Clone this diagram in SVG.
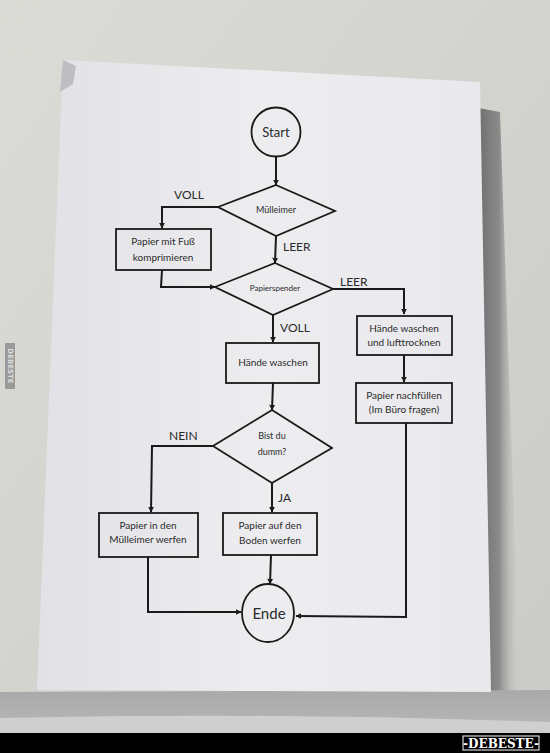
<svg xmlns="http://www.w3.org/2000/svg" width="550" height="753" viewBox="0 0 550 753">
<defs>
<linearGradient id="wall" x1="0" y1="0" x2="1" y2="1">
<stop offset="0" stop-color="#dcdcd7"/>
<stop offset="1" stop-color="#cacac6"/>
</linearGradient>
<linearGradient id="paper" x1="0" y1="0" x2="1" y2="0">
<stop offset="0" stop-color="#e2e2e6"/>
<stop offset="0.5" stop-color="#ededf0"/>
<stop offset="1" stop-color="#e9e9ed"/>
</linearGradient>
<linearGradient id="shadow" x1="0" y1="0" x2="1" y2="0">
<stop offset="0" stop-color="#6f6f70"/>
<stop offset="0.5" stop-color="#8a8a8b"/>
<stop offset="1" stop-color="#c9c9c6" stop-opacity="0"/>
</linearGradient>
<linearGradient id="sink" x1="0" y1="0" x2="0" y2="1">
<stop offset="0" stop-color="#a9a9a9"/>
<stop offset="1" stop-color="#b8b8b8"/>
</linearGradient>
<marker id="ah" viewBox="0 0 10 10" refX="9" refY="5" markerWidth="6" markerHeight="6" orient="auto" markerUnits="userSpaceOnUse">
<path d="M0,0 L10,5 L0,10 z" fill="#1a1a1a"/>
</marker>
<style>
.sh{fill:none;stroke:#1a1a1a;stroke-width:1.8}
.ln{fill:none;stroke:#1a1a1a;stroke-width:2;marker-end:url(#ah)}
.t{font-family:Lato,"Open Sans",sans-serif;fill:#2a2a2a;text-anchor:middle}
.lb{font-family:Lato,"Open Sans",sans-serif;fill:#2a2a2a;font-size:12px}
</style>
</defs>
<rect width="550" height="753" fill="url(#wall)"/>
<polygon points="478,108 500,112 520,692 480,692" fill="url(#shadow)"/>
<polygon points="0,692 550,690 550,733 0,733" fill="url(#sink)"/>
<path d="M0,718 Q275,712 550,722 L550,733 L0,733 z" fill="#cfcfcf"/>
<polygon points="63,60 480,82 491,692 37,690" fill="url(#paper)"/>
<polygon points="63,60 76,66 73,84 60,92" fill="#bdbdc2"/>
<rect x="0" y="733" width="550" height="20" fill="#000"/>
<rect x="463" y="736" width="76" height="14" fill="#000" stroke="#fff" stroke-width="1"/>
<text x="501" y="747.5" font-family="'DejaVu Serif',serif" font-weight="bold" font-size="12" fill="#fff" text-anchor="middle">-DEBESTE-</text>
<rect x="5" y="343" width="10" height="46" fill="#9a9a9a"/>
<text x="10" y="366" font-family="'DejaVu Sans',sans-serif" font-weight="bold" font-size="7" fill="#dcdcdc" text-anchor="middle" transform="rotate(90 10 366)" dy="2.5">DEBESTE</text>

<g id="connectors">
<line class="ln" x1="276" y1="157" x2="276" y2="185"/>
<polyline class="ln" points="218,207 162,207 162,228"/>
<line class="ln" x1="276" y1="236" x2="275" y2="263"/>
<polyline class="ln" points="162,270 161,287 215,287"/>
<polyline class="ln" points="333,289 404,289 404,314"/>
<line class="ln" x1="273" y1="315" x2="273" y2="342"/>
<line class="ln" x1="404" y1="355" x2="404" y2="382"/>
<line class="ln" x1="273" y1="383" x2="272" y2="410"/>
<polyline class="ln" points="213,446 152,446 151,512"/>
<line class="ln" x1="272" y1="483" x2="272" y2="512"/>
<polyline class="ln" points="148,557 148,612 241,612"/>
<line class="ln" x1="271" y1="555" x2="270" y2="584"/>
<polyline class="ln" points="406,423 406,617 296,616"/>
</g>

<g id="labels">
<text class="lb" x="174" y="199">VOLL</text>
<text class="lb" x="283" y="251">LEER</text>
<text class="lb" x="340" y="286">LEER</text>
<text class="lb" x="280" y="332">VOLL</text>
<text class="lb" x="169" y="440">NEIN</text>
<text class="lb" x="278" y="502">JA</text>
</g>

<g id="start">
<circle class="sh" cx="276" cy="132" r="24.5"/>
<text class="t" x="276" y="137" font-size="13">Start</text>
</g>
<g id="muelleimer">
<polygon class="sh" points="276,185 335,211 276,236 218,207"/>
<text class="t" x="276" y="213" font-size="9">Mülleimer</text>
</g>
<g id="komprimieren">
<rect class="sh" x="116" y="229" width="95" height="41"/>
<text class="t" x="163" y="245" font-size="10">Papier mit Fuß</text>
<text class="t" x="163" y="261" font-size="10">komprimieren</text>
</g>
<g id="papierspender">
<polygon class="sh" points="275,263 333,289 273,315 215,287"/>
<text class="t" x="275" y="291" font-size="8">Papierspender</text>
</g>
<g id="luft">
<rect class="sh" x="357" y="316" width="95" height="39"/>
<text class="t" x="404" y="332" font-size="10">Hände waschen</text>
<text class="t" x="404" y="346" font-size="10">und lufttrocknen</text>
</g>
<g id="nachfuellen">
<rect class="sh" x="356" y="383" width="96" height="40"/>
<text class="t" x="404" y="399" font-size="10">Papier nachfüllen</text>
<text class="t" x="404" y="413" font-size="10">(Im Büro fragen)</text>
</g>
<g id="waschen">
<rect class="sh" x="226" y="343" width="93" height="40"/>
<text class="t" x="273" y="366" font-size="10">Hände waschen</text>
</g>
<g id="dumm">
<polygon class="sh" points="272,410 332,448 272,483 213,446"/>
<text class="t" x="272" y="439" font-size="9">Bist du</text>
<text class="t" x="272" y="455" font-size="9">dumm?</text>
</g>
<g id="muell">
<rect class="sh" x="99" y="513" width="99" height="44"/>
<text class="t" x="148" y="529" font-size="10">Papier in den</text>
<text class="t" x="148" y="543" font-size="10">Mülleimer werfen</text>
</g>
<g id="boden">
<rect class="sh" x="223" y="513" width="94" height="42"/>
<text class="t" x="270" y="529" font-size="10">Papier auf den</text>
<text class="t" x="270" y="544" font-size="10">Boden werfen</text>
</g>
<g id="ende">
<ellipse class="sh" cx="268" cy="613" rx="26" ry="29"/>
<text class="t" x="269" y="619" font-size="15">Ende</text>
</g>
</svg>
